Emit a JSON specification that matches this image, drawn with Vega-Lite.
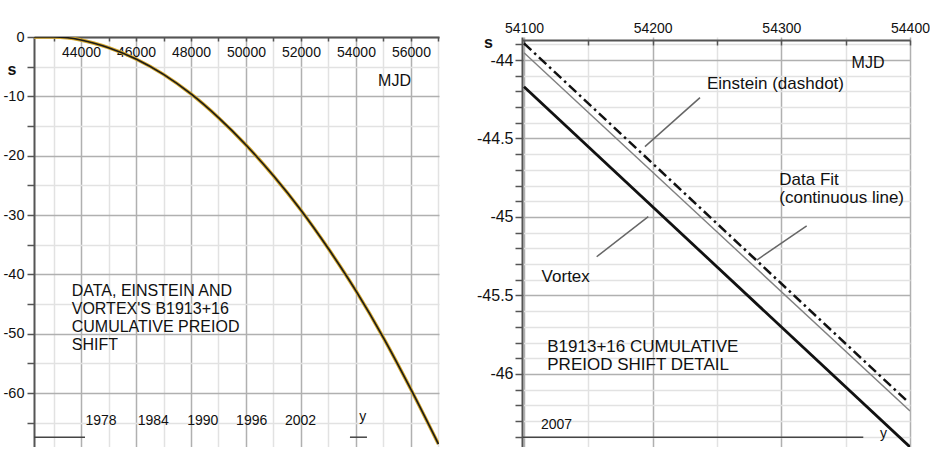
{
  "$schema": "https://vega.github.io/schema/vega-lite/v6.json",
  "padding": {"left": 3, "top": 21, "right": 0, "bottom": 0},
  "background": "white",
  "config": {
    "view": {"stroke": null},
    "font": "Liberation Sans",
    "axis": {"labelFont": "Liberation Sans", "titleFont": "Liberation Sans", "labelColor": "#111", "titleColor": "#111", "labelFlush": false, "labelOverlap": false, "labelBound": false, "domainColor": "#555", "domainWidth": 2, "tickColor": "#555", "tickWidth": 1.5, "gridWidth": 1.5}
  },
  "datasets": {
    "curve": [
      {"mjd": 42290, "s": 0}, {"mjd": 42700, "s": 0}, {"mjd": 43000, "s": 0},
      {"mjd": 43500, "s": -0.12}, {"mjd": 44000, "s": -0.5}, {"mjd": 45000, "s": -1.8},
      {"mjd": 46000, "s": -3.7}, {"mjd": 47000, "s": -6.3}, {"mjd": 48000, "s": -9.6},
      {"mjd": 49000, "s": -13.6}, {"mjd": 50000, "s": -18.2}, {"mjd": 51000, "s": -23.4},
      {"mjd": 52000, "s": -29.2}, {"mjd": 53000, "s": -35.7}, {"mjd": 54000, "s": -42.8},
      {"mjd": 55000, "s": -50.7}, {"mjd": 56000, "s": -59.4}, {"mjd": 57000, "s": -68.6}
    ],
    "leftNote": [
      {"mjd": 43662, "s": -43.63, "label": "DATA, EINSTEIN AND\nVORTEX'S B1913+16\nCUMULATIVE PREIOD\nSHIFT"}
    ],
    "years": [
      {"mjd": 44727, "s": -65.43, "label": "1978"},
      {"mjd": 46629, "s": -65.43, "label": "1984"},
      {"mjd": 48429, "s": -65.43, "label": "1990"},
      {"mjd": 50207, "s": -65.43, "label": "1996"},
      {"mjd": 51982, "s": -65.43, "label": "2002"},
      {"mjd": 54243, "s": -64.8, "label": "y"}
    ],
    "leftRules": [
      {"mjd": 42290, "mjd2": 44145, "s": -67.45},
      {"mjd": 53781, "mjd2": 54400, "s": -67.45}
    ],
    "detail": [
      {"series": "Einstein", "mjd": 54100, "s": -43.894},
      {"series": "Einstein", "mjd": 54397.7, "s": -46.172},
      {"series": "Data Fit", "mjd": 54100, "s": -43.954},
      {"series": "Data Fit", "mjd": 54400, "s": -46.236},
      {"series": "Vortex", "mjd": 54100, "s": -44.17},
      {"series": "Vortex", "mjd": 54400, "s": -46.465}
    ],
    "pointers": [
      {"mjd": 54236.8, "s": -44.24, "mjd2": 54194.0, "s2": -44.552},
      {"mjd": 54319.7, "s": -45.057, "mjd2": 54280.9, "s2": -45.274},
      {"mjd": 54156.5, "s": -45.253, "mjd2": 54196.6, "s2": -44.998}
    ],
    "rightNotes": [
      {"mjd": 54242.2, "s": -44.185, "label": "Einstein (dashdot)"},
      {"mjd": 54298.4, "s": -44.796, "label": "Data Fit\n(continuous line)"},
      {"mjd": 54113.7, "s": -45.416, "label": "Vortex"},
      {"mjd": 54118.1, "s": -45.858, "label": "B1913+16 CUMULATIVE\nPREIOD SHIFT DETAIL"}
    ],
    "rightSmall": [
      {"mjd": 54113.2, "s": -46.35, "label": "2007"},
      {"mjd": 54376.7, "s": -46.41, "label": "y"}
    ],
    "rightRules": [
      {"mjd": 54099, "mjd2": 54363.7, "s": -46.403}
    ]
  },
  "hconcat": [
    {
      "width": 405,
      "height": 410,
      "resolve": {"axis": {"x": "independent", "y": "independent"}},
      "layer": [
        {
          "data": {"name": "curve"},
          "mark": {"type": "line", "color": "#d2a52a", "strokeWidth": 3.5, "interpolate": "monotone", "clip": true},
          "encoding": {
            "x": {
              "field": "mjd", "type": "quantitative",
              "scale": {"domain": [42290, 57020], "nice": false, "zero": false},
              "axis": {
                "orient": "top", "title": null, "labels": false, "domain": false,
                "values": [43000, 45000, 47000, 49000, 51000, 53000, 55000, 57000],
                "tickSize": -4, "grid": true, "gridColor": "#e2e2e2"
              }
            },
            "y": {
              "field": "s", "type": "quantitative",
              "scale": {"domain": [-69.1, 0], "nice": false, "zero": false},
              "axis": {
                "orient": "left", "title": null, "labels": false, "domain": false,
                "values": [-5, -15, -25, -35, -45, -55, -65],
                "tickSize": 7, "grid": true, "gridColor": "#e2e2e2"
              }
            }
          }
        },
        {
          "data": {"name": "curve"},
          "mark": {"type": "line", "color": "#1a1a1a", "strokeWidth": 1.6, "interpolate": "monotone", "clip": true},
          "encoding": {
            "x": {
              "field": "mjd", "type": "quantitative",
              "axis": {
                "orient": "top",
                "title": "MJD", "titleFontSize": 16, "titleFontWeight": "normal",
                "titleX": 360, "titleY": 43, "titleAlign": "center", "titleBaseline": "middle", "titleAngle": 0,
                "values": [44000, 46000, 48000, 50000, 52000, 54000, 56000],
                "format": "d", "labelOverlap": false,
                "labelFontSize": 14, "labelBaseline": "alphabetic", "labelPadding": -15.3,
                "tickSize": -4,
                "grid": true, "gridColor": "#b0b0b0"
              }
            },
            "y": {
              "field": "s", "type": "quantitative",
              "axis": {
                "orient": "left",
                "title": "s", "titleFontSize": 16, "titleFontWeight": "bold",
                "titleAngle": 0, "titleX": -22.5, "titleY": 32, "titleAlign": "center", "titleBaseline": "middle",
                "values": [0, -10, -20, -30, -40, -50, -60],
                "labelExpr": "'' + datum.value", "labelOverlap": false,
                "labelFontSize": 14.5, "labelPadding": 3, "tickSize": 7,
                "grid": true, "gridColor": "#b0b0b0"
              }
            }
          }
        },
        {
          "data": {"name": "leftNote"},
          "mark": {"type": "text", "align": "left", "baseline": "alphabetic", "fontSize": 16, "lineHeight": 18, "lineBreak": "\n", "color": "#111"},
          "encoding": {
            "x": {"field": "mjd", "type": "quantitative", "axis": null},
            "y": {"field": "s", "type": "quantitative", "axis": null},
            "text": {"field": "label"}
          }
        },
        {
          "data": {"name": "years"},
          "mark": {"type": "text", "align": "center", "baseline": "alphabetic", "fontSize": 14, "color": "#111"},
          "encoding": {
            "x": {"field": "mjd", "type": "quantitative", "axis": null},
            "y": {"field": "s", "type": "quantitative", "axis": null},
            "text": {"field": "label"}
          }
        },
        {
          "data": {"name": "leftRules"},
          "mark": {"type": "rule", "color": "#444", "strokeWidth": 1.5},
          "encoding": {
            "x": {"field": "mjd", "type": "quantitative", "axis": null},
            "x2": {"field": "mjd2"},
            "y": {"field": "s", "type": "quantitative", "axis": null}
          }
        }
      ]
    },
    {
      "width": 388,
      "height": 410,
      "resolve": {"axis": {"x": "independent", "y": "independent"}},
      "layer": [
        {
          "data": {"name": "detail"},
          "transform": [{"filter": "datum.series == 'Data Fit'"}],
          "mark": {"type": "line", "color": "#808080", "strokeWidth": 1.4, "clip": true},
          "encoding": {
            "x": {
              "field": "mjd", "type": "quantitative",
              "scale": {"domain": [54098.45, 54400], "nice": false, "zero": false},
              "axis": {
                "orient": "top", "offset": -3, "title": null, "labels": false, "domain": false,
                "values": [54150, 54250, 54350],
                "tickSize": -5, "grid": true, "gridColor": "#e2e2e2"
              }
            },
            "y": {
              "field": "s", "type": "quantitative",
              "scale": {"domain": [-46.465, -43.8535], "nice": false, "zero": false},
              "axis": {
                "orient": "left", "title": null, "labels": false, "domain": false,
                "values": [-43.9, -44.1, -44.2, -44.3, -44.4, -44.6, -44.7, -44.8, -44.9, -45.1, -45.2, -45.3, -45.4, -45.6, -45.7, -45.8, -45.9, -46.1, -46.2, -46.3, -46.4],
                "tickSize": 7, "grid": true, "gridColor": "#e2e2e2"
              }
            }
          }
        },
        {
          "data": {"name": "detail"},
          "transform": [{"filter": "datum.series == 'Einstein'"}],
          "mark": {"type": "line", "color": "#111", "strokeWidth": 2.5, "strokeDash": [10, 4, 2.5, 4], "clip": true},
          "encoding": {
            "x": {
              "field": "mjd", "type": "quantitative",
              "axis": {
                "orient": "top", "offset": -3,
                "title": "MJD", "titleFontSize": 16, "titleFontWeight": "normal",
                "titleX": 345.5, "titleY": 22, "titleAlign": "center", "titleBaseline": "middle", "titleAngle": 0,
                "values": [54100, 54200, 54300, 54400],
                "format": "d", "labelOverlap": false,
                "labelFontSize": 14, "labelBaseline": "alphabetic", "labelPadding": 12.3,
                "tickSize": -5,
                "grid": true, "gridColor": "#b0b0b0"
              }
            },
            "y": {
              "field": "s", "type": "quantitative",
              "axis": {
                "orient": "left",
                "title": "s", "titleFontSize": 16, "titleFontWeight": "bold",
                "titleAngle": 0, "titleX": -34, "titleY": 5, "titleAlign": "center", "titleBaseline": "middle",
                "values": [-44, -44.5, -45, -45.5, -46],
                "labelExpr": "'' + datum.value", "labelOverlap": false,
                "labelFontSize": 16, "labelPadding": 2, "tickSize": 7,
                "grid": true, "gridColor": "#b0b0b0"
              }
            }
          }
        },
        {
          "data": {"name": "detail"},
          "transform": [{"filter": "datum.series == 'Vortex'"}],
          "mark": {"type": "line", "color": "#111", "strokeWidth": 2.8, "clip": true},
          "encoding": {
            "x": {"field": "mjd", "type": "quantitative", "axis": null},
            "y": {"field": "s", "type": "quantitative", "axis": null}
          }
        },
        {
          "data": {"name": "pointers"},
          "mark": {"type": "rule", "color": "#666", "strokeWidth": 1.5},
          "encoding": {
            "x": {"field": "mjd", "type": "quantitative", "axis": null},
            "y": {"field": "s", "type": "quantitative", "axis": null},
            "x2": {"field": "mjd2"},
            "y2": {"field": "s2"}
          }
        },
        {
          "data": {"name": "rightNotes"},
          "mark": {"type": "text", "align": "left", "baseline": "alphabetic", "fontSize": 17, "lineHeight": 18, "lineBreak": "\n", "color": "#111"},
          "encoding": {
            "x": {"field": "mjd", "type": "quantitative", "axis": null},
            "y": {"field": "s", "type": "quantitative", "axis": null},
            "text": {"field": "label"}
          }
        },
        {
          "data": {"name": "rightSmall"},
          "mark": {"type": "text", "align": "left", "baseline": "alphabetic", "fontSize": 14, "color": "#111"},
          "encoding": {
            "x": {"field": "mjd", "type": "quantitative", "axis": null},
            "y": {"field": "s", "type": "quantitative", "axis": null},
            "text": {"field": "label"}
          }
        },
        {
          "data": {"name": "rightRules"},
          "mark": {"type": "rule", "color": "#444", "strokeWidth": 1.5},
          "encoding": {
            "x": {"field": "mjd", "type": "quantitative", "axis": null},
            "x2": {"field": "mjd2"},
            "y": {"field": "s", "type": "quantitative", "axis": null}
          }
        }
      ]
    }
  ],
  "spacing": 83,
  "bounds": "flush"
}
